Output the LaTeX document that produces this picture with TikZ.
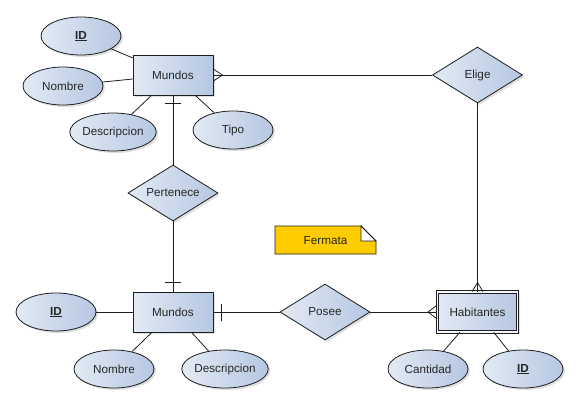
\documentclass[tikz,border=0pt]{standalone}
\usepackage{fontspec}
\setmainfont{Liberation Sans}
\usetikzlibrary{shapes.geometric,shadows,calc}
\definecolor{fillA}{HTML}{E2EAF4}
\definecolor{fillB}{HTML}{B6C7E2}
\definecolor{edgec}{HTML}{1E1E1E}
\definecolor{notec}{HTML}{FFCC00}
\tikzset{
  x=1pt,y=-1pt,
  every node/.style={font=\fontsize{11.7}{14}\selectfont, text=black!85},
  base/.style={draw=edgec, line width=0.8pt, left color=fillA, right color=fillB,
     drop shadow={shadow xshift=2pt, shadow yshift=-2pt, opacity=0.25}},
  entity/.style={base, rectangle, minimum width=80pt, minimum height=40pt, inner sep=0pt},
  weakentity/.style={entity, double=white!70!fillA, double distance=1.8pt, line width=0.75pt},
  attr/.style={base, ellipse, minimum width=80pt, minimum height=38pt, inner sep=0pt},
  rel/.style={base, diamond, minimum width=90pt, minimum height=56pt, inner sep=0pt, aspect=1.6},
  conn/.style={draw=edgec, line width=0.8pt},
}
\begin{document}
\begin{tikzpicture}
\useasboundingbox (0,0) rectangle (577,404);

% top entity
\node[entity] (m1) at (173,75) {Mundos};
\node[attr] (id1) at (81,36) {\underline{\textbf{ID}}};
\node[attr] (nom1) at (63,86) {Nombre};
\node[attr] (des1) at (113,132) {Descripcion};
\node[attr] (tipo1) at (233,130) {Tipo};

\node[rel] (elige) at (477.5,75) {Elige};
\node[rel] (pert) at (173,193) {Pertenece};

% bottom
\node[entity] (m2) at (173,312) {Mundos};
\node[attr] (id2) at (56,312) {\underline{\textbf{ID}}};
\node[attr] (nom2) at (114,369) {Nombre};
\node[attr] (des2) at (225,369) {Descripcion};

\node[rel] (posee) at (325,312) {Posee};
\node[weakentity] (hab) at (477.5,312) {Habitantes};
\node[attr] (cant) at (428,369) {Cantidad};
\node[attr] (id3) at (523,369) {\underline{\textbf{ID}}};

% note
\fill[notec] (275,226) -- (361,226) -- (376,241) -- (376,254) -- (275,254) -- cycle;
\draw[edgec, line width=0.8pt] (275,226) -- (361,226) -- (376,241) -- (376,254) -- (275,254) -- cycle;
\draw[edgec, line width=0.8pt, fill=white] (361,226) -- (361,241) -- (376,241) -- cycle;
\node (fermata) at (325.5,240.5) {Fermata};

% attribute connectors
\draw[conn] (id1) -- (m1);
\draw[conn] (nom1) -- (m1);
\draw[conn] (des1) -- (m1);
\draw[conn] (tipo1) -- (m1);
\draw[conn] (id2) -- (m2);
\draw[conn] (nom2) -- (m2);
\draw[conn] (des2) -- (m2);
\draw[conn] (cant) -- (hab);
\draw[conn] (id3) -- (hab);

% relationships
\draw[conn] (m1.east) -- (elige.west);
\draw[conn] ($(m1.east)+(0,-6)$) -- ($(m1.east)+(9,0)$) -- ($(m1.east)+(0,6)$);

\draw[conn] (elige.south) -- (hab.north);
\draw[conn] ($(hab.north)+(-5.5,0)$) -- ($(hab.north)+(0,-9)$) -- ($(hab.north)+(5.5,0)$);

\draw[conn] (m1.south) -- (pert.north);
\draw[conn] ($(m1.south)+(-8,8)$) -- ($(m1.south)+(8,8)$);

\draw[conn] (pert.south) -- (m2.north);
\draw[conn] ($(m2.north)+(-8,-9)$) -- ($(m2.north)+(8,-9)$);

\draw[conn] (m2.east) -- (posee.west);
\draw[conn] ($(m2.east)+(8,-8.5)$) -- ($(m2.east)+(8,8.5)$);

\draw[conn] (posee.east) -- (hab.west);
\draw[conn] ($(hab.west)+(0,-7)$) -- ($(hab.west)+(-9,0)$) -- ($(hab.west)+(0,7)$);
\end{tikzpicture}
\end{document}
